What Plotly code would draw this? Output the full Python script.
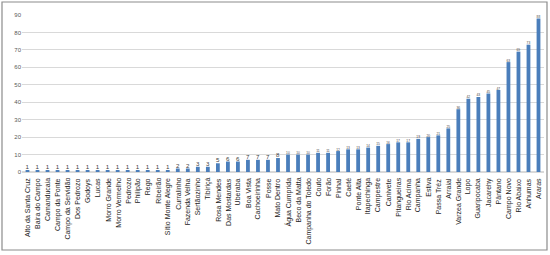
import plotly.graph_objects as go

categories = ["Alto da Santa Cruz", "Baira do Campo", "Camanducaia", "Campo da Ponte",
              "Campo da Servidão", "Dos Pedrozo", "Godoys", "Lucas", "Morro Grande",
              "Morro Vermelho", "Pedrozo", "Philipão", "Rego", "Ribeirão",
              "Sítio Monte Alegre", "Curralinho", "Fazenda Velha", "Sertãozinho", "Tibiriçá",
              "Rosa Mendes", "Das Mostardas", "Uberaba", "Boa Vista", "Cachoeirinha", "Posse",
              "Mato Dentro", "Água Cumprida", "Beco da Matta", "Campanha do Toledo", "Couto",
              "Forão", "Pinhal", "Caeté", "Ponte Alta", "Itapechinga", "Campestre", "Canivete",
              "Pitangueiras", "Rio Acima", "Campanha", "Estiva", "Passa Tréz", "Arraial",
              "Varzea Grande", "Lopo", "Guaripocaba", "Jacarehy", "Pântano", "Campo Novo",
              "Rio Abaixo", "Anhumas", "Araras"]
values = [1, 1, 1, 1, 1, 1, 1, 1, 1, 1, 1, 1, 1, 1, 1, 2, 2, 3, 3, 5, 6, 6, 7, 7, 7, 8,
          10, 10, 10, 11, 11, 12, 13, 13, 14, 15, 16, 17, 17, 19, 20, 21, 25, 36, 42, 43,
          45, 47, 63, 69, 73, 88]
y_ticks = [0, 10, 20, 30, 40, 50, 60, 70, 80, 90]

L, R, T, B = 22, 6, 15, 83
W, H = 550, 255
pw, ph = W - L - R, H - T - B

fig = go.Figure(go.Bar(
    x=categories, y=values,
    marker=dict(color="#4A7EBB", line=dict(width=0)),
    text=[str(v) for v in values], textposition="outside",
    textfont=dict(size=6.5, color="#404040", family="Liberation Sans"),
    cliponaxis=False,
))

annotations = [dict(x=c, y=0, xref="x", yref="y", text=c, textangle=-90,
                    showarrow=False, xanchor="center", yanchor="top", yshift=-4,
                    font=dict(size=7, color="#222222", family="Liberation Sans"))
               for c in categories]

fig.update_layout(
    width=W, height=H,
    margin=dict(l=L, r=R, t=T, b=B, autoexpand=False),
    paper_bgcolor="white", plot_bgcolor="white",
    bargap=0.62,
    showlegend=False,
    font=dict(family="Liberation Sans", size=7, color="#333333"),
    annotations=annotations,
    shapes=[dict(type="rect", xref="paper", yref="paper",
                 x0=(2 - L) / pw, x1=(547 - L) / pw,
                 y0=(H - B - 250) / ph, y1=(H - B - 2) / ph,
                 line=dict(color="#8c8c8c", width=1.2), fillcolor="rgba(0,0,0,0)")],
)
fig.update_xaxes(showticklabels=False, showgrid=False, showline=False, ticks="",
                 automargin=False)
fig.update_yaxes(range=[0, 90], tickvals=y_ticks, showgrid=True, gridcolor="#d9d9d9",
                 gridwidth=1, zeroline=True, zerolinecolor="#d9d9d9", showline=False,
                 tickfont=dict(size=6, color="#595959"), ticks="", automargin=False)

fig.write_html("out.html", config={"displayModeBar": False},
               post_script="document.body.style.margin='0';document.body.style.overflow='hidden';")
